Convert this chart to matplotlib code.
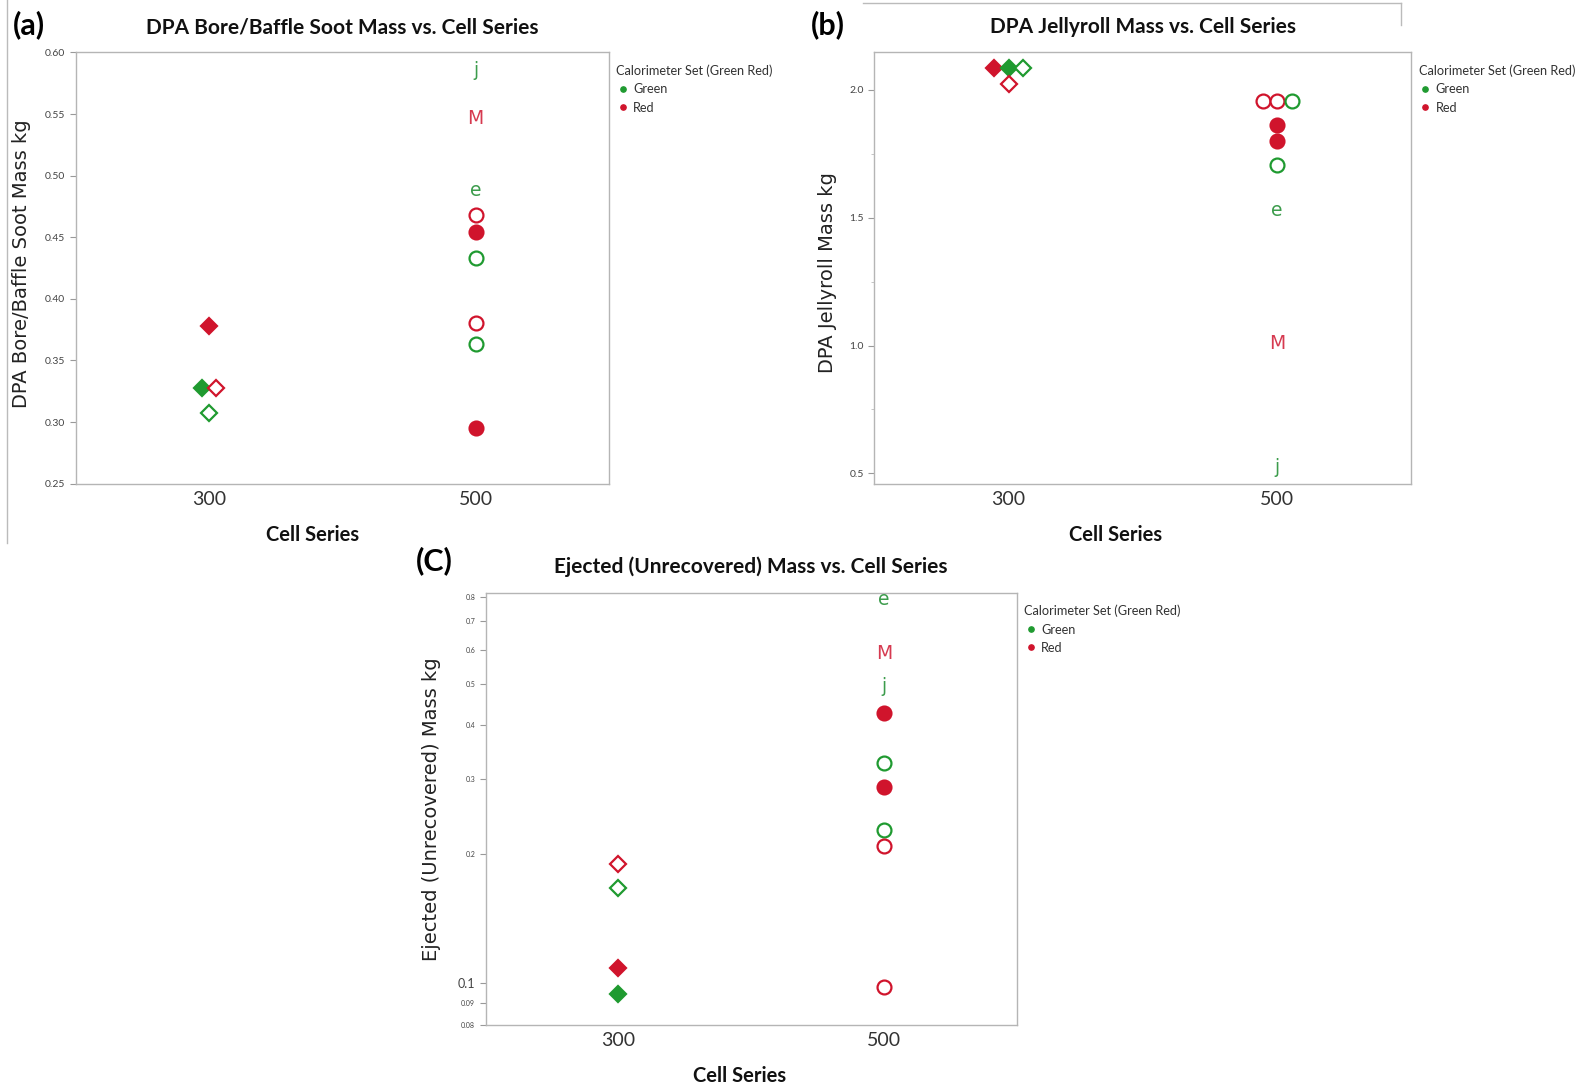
import numpy as np
import matplotlib.pyplot as plt
from matplotlib.lines import Line2D

RED = "#d0142c"
GREEN = "#1f9a30"
LETTER_GREEN = "#3c9c4c"
LETTER_RED = "#d63a50"

categories = ["300", "500"]

# symbol codes: "D+" filled diamond, "D-" open diamond, "o+" filled circle, "o-" open circle, else a letter
a_series = ["300", "300", "300", "300", "500", "500", "500", "500", "500", "500", "500", "500", "500"]
a_values = [0.378, 0.328, 0.328, 0.307, 0.585, 0.546, 0.488, 0.468, 0.454, 0.433, 0.380, 0.363, 0.295]
a_sets = ["Red", "Green", "Red", "Green", "Green", "Red", "Green", "Red", "Red", "Green", "Red", "Green", "Red"]
a_symbols = ["D+", "D+", "D-", "D-", "j", "M", "e", "o-", "o+", "o-", "o-", "o-", "o+"]

b_series = ["300", "300", "300", "300", "500", "500", "500", "500", "500", "500", "500", "500", "500"]
b_values = [2.087, 2.087, 2.087, 2.024, 1.957, 1.957, 1.957, 1.862, 1.800, 1.704, 1.526, 1.009, 0.524]
b_sets = ["Red", "Green", "Green", "Red", "Red", "Red", "Green", "Red", "Red", "Green", "Green", "Red", "Green"]
b_symbols = ["D+", "D+", "D-", "D-", "o-", "o-", "o-", "o+", "o+", "o-", "e", "M", "j"]

c_series = ["300", "300", "300", "300", "500", "500", "500", "500", "500", "500", "500", "500", "500"]
c_values = [0.190, 0.167, 0.1085, 0.0942, 0.787, 0.588, 0.493, 0.428, 0.327, 0.288, 0.228, 0.209, 0.098]
c_sets = ["Red", "Green", "Red", "Green", "Green", "Red", "Green", "Red", "Green", "Red", "Green", "Red", "Red"]
c_symbols = ["D-", "D-", "D+", "D+", "e", "M", "j", "o+", "o-", "o+", "o-", "o-", "o-"]

titles = ["DPA Bore/Baffle Soot Mass vs. Cell Series",
          "DPA Jellyroll Mass vs. Cell Series",
          "Ejected (Unrecovered) Mass vs. Cell Series"]
ylabels = ["DPA Bore/Baffle Soot Mass kg", "DPA Jellyroll Mass kg", "Ejected (Unrecovered) Mass kg"]
panel_tags = ["(a)", "(b)", "(C)"]

a_ticks = [0.25, 0.30, 0.35, 0.40, 0.45, 0.50, 0.55, 0.60]
b_ticks = [0.5, 1.0, 1.5, 2.0]
c_ticks = [0.08, 0.09, 0.1, 0.2, 0.3, 0.4, 0.5, 0.6, 0.7, 0.8]

colors = {"Red": RED, "Green": GREEN}
letter_colors = {"Red": LETTER_RED, "Green": LETTER_GREEN}


def draw(ax, series, values, sets, symbols, ylim, log=False):
    x = np.array([categories.index(s) for s in series], dtype=float)
    y = np.array(values, dtype=float)
    t = np.log10(y) if log else y
    lo, hi = (np.log10(ylim[0]), np.log10(ylim[1])) if log else ylim
    tol = 0.02 * (hi - lo)
    # group overlapping points and spread them side by side
    clusters = []
    for i in range(len(y)):
        for c in clusters:
            j = c[0]
            if x[j] == x[i] and abs(t[j] - t[i]) < tol:
                c.append(i)
                break
        else:
            clusters.append([i])
    xs = x.copy()
    step = 0.054
    for c in clusters:
        n = len(c)
        for k, i in enumerate(c):
            xs[i] = x[i] + (k - (n - 1) / 2) * step

    for i in range(len(y)):
        col = colors[sets[i]]
        sym = symbols[i]
        if sym in ("D+", "D-", "o+", "o-"):
            m = "D" if sym[0] == "D" else "o"
            size = 8.5 if m == "D" else 10
            face = col if sym[1] == "+" else "white"
            ax.plot(xs[i], y[i], marker=m, markersize=size, markerfacecolor=face,
                    markeredgecolor=col, markeredgewidth=1.6, linestyle="none", zorder=3)
        else:
            ax.text(xs[i], y[i], sym, color=letter_colors[sets[i]], fontsize=13.5,
                    ha="center", va="center", family="DejaVu Sans", zorder=3)

    if log:
        ax.set_yscale("log")
    ax.set_ylim(*ylim)
    ax.set_xlim(-0.5, 1.5)
    ax.set_xticks(range(len(categories)))
    ax.set_xticklabels(categories, fontsize=14, color="#333333")
    ax.tick_params(axis="x", length=0, pad=5)
    ax.tick_params(axis="y", length=4, width=0.8, color="#999999", labelcolor="#444444")
    for sp in ax.spines.values():
        sp.set_color("#b5b5b5")
        sp.set_linewidth(1.0)


def add_legend(ax):
    handles = [Line2D([], [], marker="o", color=GREEN, linestyle="none", markersize=3.8),
               Line2D([], [], marker="o", color=RED, linestyle="none", markersize=3.8)]
    leg = ax.legend(handles, ["Green", "Red"], title="Calorimeter Set (Green Red)",
                    loc="upper left", bbox_to_anchor=(1.0, 0.99), frameon=False,
                    fontsize=9.2, title_fontsize=9.2, alignment="left", handletextpad=0.3,
                    handlelength=1.0, labelspacing=0.5, borderaxespad=0.2)
    leg.get_title().set_color("#333333")
    for txt in leg.get_texts():
        txt.set_color("#333333")


plt.rcParams["font.family"] = ["Lato", "DejaVu Sans"]

fig = plt.figure(figsize=(15.83, 10.86), dpi=100)
ax_a = fig.add_axes([0.0478, 0.5547, 0.3368, 0.397])
ax_b = fig.add_axes([0.5523, 0.5547, 0.3393, 0.397])
ax_c = fig.add_axes([0.3068, 0.0564, 0.3355, 0.3979])

draw(ax_a, a_series, a_values, a_sets, a_symbols, (0.25, 0.60))
ax_a.set_yticks(a_ticks)
ax_a.set_yticklabels([f"{v:.2f}" for v in a_ticks], fontsize=7.5)

draw(ax_b, b_series, b_values, b_sets, b_symbols, (0.46, 2.146))
ax_b.set_yticks(b_ticks)
ax_b.set_yticklabels([f"{v:.1f}" for v in b_ticks], fontsize=7.5)
ax_b.set_yticks([0.75, 1.25, 1.75], minor=True)
ax_b.tick_params(axis="y", which="minor", length=2, color="#bbbbbb")

draw(ax_c, c_series, c_values, c_sets, c_symbols, (0.08, 0.817), log=True)
ax_c.set_yticks(c_ticks)
ax_c.set_yticks([], minor=True)
ax_c.set_yticklabels([f"{v:g}" for v in c_ticks])
for lab, v in zip(ax_c.get_yticklabels(), c_ticks):
    lab.set_fontsize(9 if v == 0.1 else 5)

for ax, title, ylab, tag in zip([ax_a, ax_b, ax_c], titles, ylabels, panel_tags):
    ax.set_title(title, fontsize=15, fontweight="bold", pad=14, color="#111111")
    ax.set_ylabel(ylab, fontsize=14, family="DejaVu Sans", color="#222222")
    ax.set_xlabel("Cell Series", fontsize=14.5, fontweight="bold", color="#111111")
    add_legend(ax)

ax_a.yaxis.set_label_coords(-0.083, 0.51)
ax_b.yaxis.set_label_coords(-0.07, 0.49)
ax_c.yaxis.set_label_coords(-0.084, 0.5)
ax_a.xaxis.set_label_coords(0.445, -0.095)
ax_b.xaxis.set_label_coords(0.449, -0.095)
ax_c.xaxis.set_label_coords(0.479, -0.095)

fig.text(0.008, 0.977, "(a)", fontsize=22, fontweight="bold", va="center")
fig.text(0.512, 0.977, "(b)", fontsize=22, fontweight="bold", va="center")
fig.text(0.263, 0.484, "(C)", fontsize=22, fontweight="bold", va="center")

# faint crop borders from the original figure composition
fig.add_artist(Line2D([0.0045, 0.0045], [0.50, 1.0], transform=fig.transFigure, color="#bbbbbb", lw=1))
fig.add_artist(Line2D([0.545, 0.885], [0.997, 0.997], transform=fig.transFigure, color="#bbbbbb", lw=1))
fig.add_artist(Line2D([0.885, 0.885], [0.977, 0.997], transform=fig.transFigure, color="#bbbbbb", lw=1))

fig.savefig("out.png", dpi=100, facecolor="white")
